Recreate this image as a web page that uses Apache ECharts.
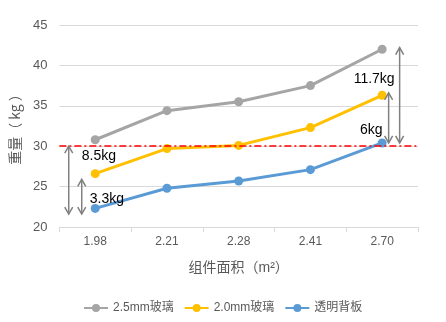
<!DOCTYPE html>
<html><head><meta charset="utf-8">
<script src="https://cdn.jsdelivr.net/npm/echarts@6/dist/echarts.min.js"></script>
<style>html,body{margin:0;padding:0;background:#fff}#c{width:446px;height:322px}</style>
</head><body><div id="c"></div>
<script>
const categories = ['1.98','2.21','2.28','2.41','2.70'];
const glass25 = [30.8, 34.4, 35.5, 37.5, 42.0];
const glass20 = [26.6, 29.7, 30.1, 32.3, 36.3];
const backsheet = [22.3, 24.8, 25.7, 27.1, 30.4];
const seriesNames = ['2.5mm玻璃','2.0mm玻璃','透明背板'];
const refValue = 30;
const yTicks = {min:20, max:45, interval:5};
// annotation arrows: [category index, from value, to value]
const arrows = [[0, 30.0, 21.6],[0, 25.9, 21.6],[4, 42.2, 30.4],[4, 36.6, 30.4]];
const arrowOffsets = [-26.5, -13.5, 17.5, 6.5];
// annotation labels: [text, category index, value]
const labels = [['8.5kg',0,28.8],['3.3kg',0,23.5],['11.7kg',4,38.3],['6kg',4,32.0]];
const labelStyle = [{dx:-13.5,align:'left'},{dx:-5.5,align:'left'},{dx:12.5,align:'right'},{dx:0.5,align:'right'}];

const colors = ['#A5A5A5','#FFC000','#5B9BD5'];
const font = '"Liberation Sans", Arial, "Noto Sans CJK SC", sans-serif';
const chart = echarts.init(document.getElementById('c'));
const mk = (name, data, color, extra) => Object.assign({
  name, type:'line', data, symbol:'circle', symbolSize:9,
  itemStyle:{color}, lineStyle:{color, width:3}
}, extra||{});
chart.setOption({
  animation:false,
  textStyle:{fontFamily:font},
  grid:{left:53, right:28, top:25, bottom:95},
  legend:{left:78, bottom:3, itemWidth:24, itemHeight:10, itemGap:10,
    textStyle:{color:'#595959', fontSize:12, fontFamily:font},
    data:seriesNames},
  xAxis:{type:'category', data:categories, boundaryGap:true,
    name:'组件面积（m²）', nameLocation:'middle', nameGap:34,
    nameTextStyle:{color:'#595959', fontSize:14, fontFamily:font},
    axisLine:{lineStyle:{color:'#D9D9D9'}},
    axisTick:{show:true, alignWithLabel:false, lineStyle:{color:'#D9D9D9'}},
    axisLabel:{color:'#595959', fontSize:12, margin:9}},
  yAxis:{type:'value', min:yTicks.min, max:yTicks.max, interval:yTicks.interval,
    name:'重量（ kg ）', nameLocation:'middle', nameGap:29,
    nameTextStyle:{color:'#595959', fontSize:14, fontFamily:'"Noto Sans CJK SC", sans-serif'},
    axisLine:{show:false}, axisTick:{show:false},
    axisLabel:{color:'#595959', fontSize:13, margin:12},
    splitLine:{lineStyle:{color:'#D9D9D9'}}},
  series:[
    mk(seriesNames[0], glass25, colors[0]),
    mk(seriesNames[1], glass20, colors[1]),
    mk(seriesNames[2], backsheet, colors[2], {
      markLine:{silent:true, symbol:'none', label:{show:false},
        lineStyle:{color:'#FF0000', width:1.5, type:[7,3,2,3]},
        data:[{yAxis:refValue}]}
    })
  ]
});
const g = [];
arrows.forEach((a,i)=>{
  const p0 = chart.convertToPixel({xAxisIndex:0,yAxisIndex:0},[a[0],a[1]]);
  const p1 = chart.convertToPixel({xAxisIndex:0,yAxisIndex:0},[a[0],a[2]]);
  const x = p0[0] + arrowOffsets[i];
  const y0 = p0[1], y1 = p1[1];
  const st = {stroke:'#808080', lineWidth:1.5, fill:null};
  g.push({type:'line', shape:{x1:x,y1:y0,x2:x,y2:y1}, style:st, z:10});
  g.push({type:'polyline', shape:{points:[[x-4,y0+7],[x,y0],[x+4,y0+7]]}, style:st, z:10});
  g.push({type:'polyline', shape:{points:[[x-4,y1-7],[x,y1],[x+4,y1-7]]}, style:st, z:10});
});
labels.forEach((l,i)=>{
  const p = chart.convertToPixel({xAxisIndex:0,yAxisIndex:0},[l[1],l[2]]);
  g.push({type:'text', x:p[0]+labelStyle[i].dx, y:p[1], z:11,
    style:{text:l[0], fill:'#000', font:'14px '+font, align:labelStyle[i].align, verticalAlign:'middle'}});
});
chart.setOption({graphic:g});
</script></body></html>
